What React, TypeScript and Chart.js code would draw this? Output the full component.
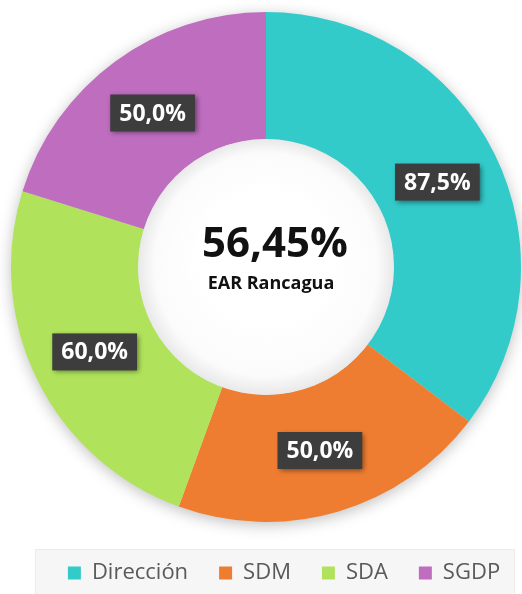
import React, { useEffect, useRef } from "react";
import { Chart, registerables } from "chart.js";

Chart.register(...registerables);

const categories = ["Dirección", "SDM", "SDA", "SGDP"];
const values = [87.5, 50.0, 60.0, 50.0];
const valueLabels = ["87,5%", "50,0%", "60,0%", "50,0%"];
const colors = ["#33CACA", "#EE7D31", "#B0E35B", "#BF6DBF"];
const centerValue = "56,45%";
const centerLabel = "EAR Rancagua";

const FONT = "'Open Sans', 'Noto Sans', sans-serif";
const LEGEND_SHIFT = 18;

const legendBgPlugin = {
  id: "legendBg",
  beforeDraw(chart: any) {
    const ctx = chart.ctx;
    ctx.save();
    ctx.translate(LEGEND_SHIFT, 0);
    const lg = chart.legend;
    if (!lg || !lg.legendHitBoxes || !lg.legendHitBoxes.length) return;
    const hb = lg.legendHitBoxes;
    const x0 = hb[0].left - 33;
    const x1 = hb[hb.length - 1].left + hb[hb.length - 1].width + 14;
    const y0 = hb[0].top + hb[0].height / 2 - 24;
    const y1 = chart.height;
    ctx.fillStyle = "#f6f6f6";
    ctx.fillRect(x0, y0, x1 - x0, y1 - y0);
    ctx.strokeStyle = "#ececec";
    ctx.lineWidth = 1;
    ctx.strokeRect(x0 + 0.5, y0 + 0.5, x1 - x0, y1 - y0);
  },
};

const shadowPlugin = {
  id: "ringShadow",
  beforeDatasetsDraw(chart: any) {
    const ctx = chart.ctx;
    ctx.restore();
    const meta = chart.getDatasetMeta(0);
    const arc = meta.data[0];
    if (!arc) return;
    const { x, y, outerRadius } = arc.getProps(["x", "y", "outerRadius"], true);
    ctx.save();
    ctx.shadowColor = "rgba(0,0,0,0.28)";
    ctx.shadowBlur = 16;
    ctx.shadowOffsetY = 3;
    ctx.fillStyle = "#dddddd";
    ctx.beginPath();
    ctx.arc(x, y, outerRadius - 1, 0, Math.PI * 2);
    ctx.fill();
    ctx.restore();
  },
  afterDatasetsDraw(chart: any) {
    const meta = chart.getDatasetMeta(0);
    const arc0 = meta.data[0];
    if (!arc0) return;
    const { x, y, innerRadius } = arc0.getProps(["x", "y", "innerRadius"], true);
    const ctx = chart.ctx;
    // inner hole shading
    ctx.save();
    const g = ctx.createRadialGradient(x, y - 10, innerRadius * 0.5, x, y, innerRadius);
    g.addColorStop(0, "#ffffff");
    g.addColorStop(0.75, "#fbfbfb");
    g.addColorStop(1, "#e9e9e9");
    ctx.fillStyle = g;
    ctx.beginPath();
    ctx.arc(x, y, innerRadius + 0.5, 0, Math.PI * 2);
    ctx.fill();
    ctx.restore();

    // center text
    ctx.save();
    ctx.fillStyle = "#111111";
    ctx.textAlign = "center";
    ctx.textBaseline = "middle";
    ctx.font = `bold 42px ${FONT}`;
    ctx.fillText(centerValue, x + 9, y - 22);
    ctx.font = `bold 18px ${FONT}`;
    ctx.fillText(centerLabel, x + 5, y + 17);
    ctx.restore();

    // value labels
    meta.data.forEach((el: any, i: number) => {
      const p = el.tooltipPosition(true);
      const txt = valueLabels[i];
      ctx.save();
      ctx.font = `bold 23px ${FONT}`;
      const w = ctx.measureText(txt).width + 18;
      const h = 37;
      ctx.shadowColor = "rgba(0,0,0,0.45)";
      ctx.shadowBlur = 5;
      ctx.shadowOffsetX = 2;
      ctx.shadowOffsetY = 2;
      ctx.fillStyle = "#3d3d3d";
      ctx.fillRect(p.x - w / 2, p.y - h / 2, w, h);
      ctx.shadowColor = "transparent";
      ctx.fillStyle = "#ffffff";
      ctx.textAlign = "center";
      ctx.textBaseline = "middle";
      ctx.fillText(txt, p.x, p.y + 1);
      ctx.restore();
    });
  },
};

export default function App() {
  const ref = useRef<HTMLCanvasElement | null>(null);
  useEffect(() => {
    document.body.style.margin = "0";
    const canvas = ref.current;
    if (!canvas) return;
    const chart = new Chart(canvas, {
      type: "doughnut",
      data: {
        labels: categories,
        datasets: [
          {
            data: values,
            backgroundColor: colors,
            borderWidth: 0,
          },
        ],
      },
      options: {
        responsive: false,
        animation: false,
        cutout: "50%",
        layout: { padding: { left: 11, right: 1, top: 3, bottom: 0 } },
        plugins: {
          tooltip: { enabled: false },
          legend: {
            position: "bottom",
            labels: {
              color: "#595959",
              font: { family: FONT, size: 22 },
              boxWidth: 13,
              boxHeight: 13,
              padding: 31,
            },
          },
        },
      },
      plugins: [legendBgPlugin, shadowPlugin],
    });
    return () => chart.destroy();
  }, []);
  return (
    <div style={{ width: 522, height: 594, background: "#ffffff" }}>
      <canvas ref={ref} width={522} height={594} style={{ width: 522, height: 594, display: "block" }} />
    </div>
  );
}
